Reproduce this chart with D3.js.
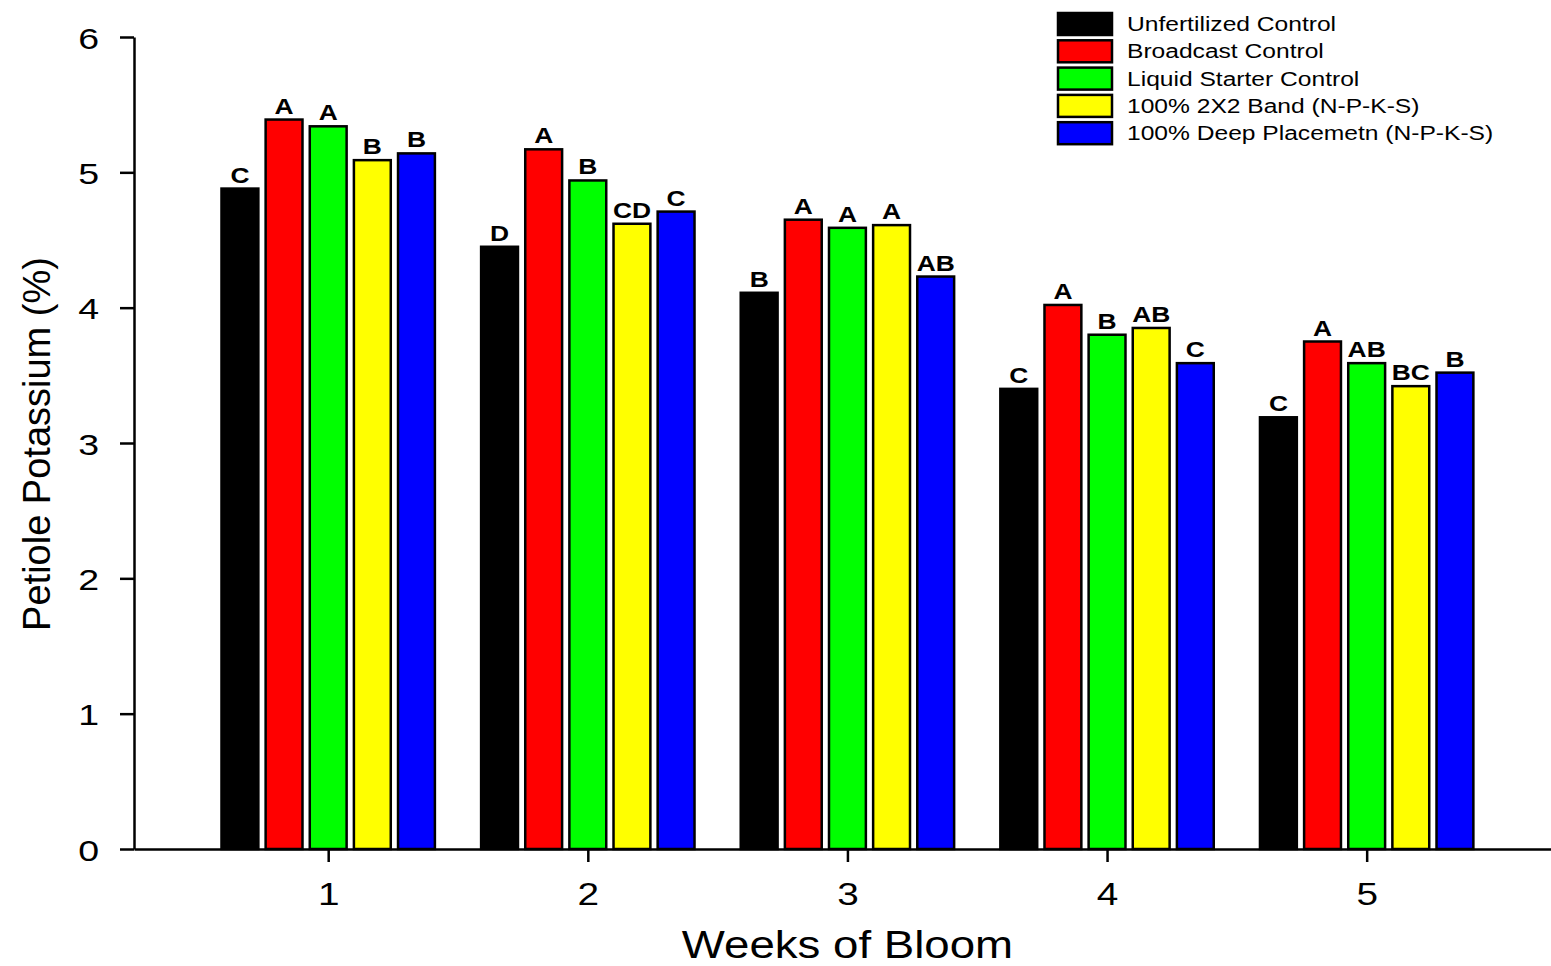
<!DOCTYPE html>
<html>
<head>
<meta charset="utf-8">
<script src="https://cdn.jsdelivr.net/npm/d3@7"></script>
<style>
  html, body { margin: 0; padding: 0; background: #fff; }
  svg text { font-family: Arial, "Liberation Sans", sans-serif; fill: #000; }
</style>
</head>
<body>
<svg id="chart" width="1551" height="966"></svg>
<script>
// Weeks of bloom (x categories)
const weeks = [1, 2, 3, 4, 5];

// Treatments, in drawing order within each week
const treatments = [
  "Unfertilized Control",
  "Broadcast Control",
  "Liquid Starter Control",
  "100% 2X2 Band (N-P-K-S)",
  "100% Deep Placemetn (N-P-K-S)"
];
const colors = ["#000000", "#ff0000", "#00ff00", "#ffff00", "#0000ff"];

// Petiole potassium (%) per treatment, weeks 1..5
const unfertilized = [4.88, 4.45, 4.11, 3.40, 3.19];
const broadcast    = [5.39, 5.17, 4.65, 4.02, 3.75];
const liquidStart  = [5.34, 4.94, 4.59, 3.80, 3.59];
const band2x2      = [5.09, 4.62, 4.61, 3.85, 3.42];
const deepPlace    = [5.14, 4.71, 4.23, 3.59, 3.52];

// Mean separation letters per treatment, weeks 1..5
const lettersUnfert    = ["C", "D", "B", "C", "C"];
const lettersBroadcast = ["A", "A", "A", "A", "A"];
const lettersLiquid    = ["A", "B", "A", "B", "AB"];
const lettersBand      = ["B", "CD", "A", "AB", "BC"];
const lettersDeep      = ["B", "C", "AB", "C", "B"];

const yTicks = [0, 1, 2, 3, 4, 5, 6];

const series = [unfertilized, broadcast, liquidStart, band2x2, deepPlace];
const letters = [lettersUnfert, lettersBroadcast, lettersLiquid, lettersBand, lettersDeep];

const svg = d3.select("#chart");
const plotLeft = 134, plotRight = 1551, plotTop = 37, plotBottom = 849;

const x = d3.scaleLinear().domain([0.252, 5.71]).range([plotLeft, plotRight]);
const y = d3.scaleLinear().domain([0, 6]).range([plotBottom, plotTop]);

const barStep = 0.17;   // offset between adjacent bars, in week units
const barW = 0.142;     // bar width, in week units
const barPx = x(barW) - x(0);

// Bars
const rows = [];
series.forEach((vals, s) => vals.forEach((v, i) => rows.push({
  s, week: weeks[i], v, label: letters[s][i]
})));

const g = svg.append("g");
g.selectAll("rect.bar").data(rows).enter().append("rect")
  .attr("class", "bar")
  .attr("x", d => x(d.week + (d.s - 2) * barStep) - barPx / 2)
  .attr("y", d => y(d.v))
  .attr("width", barPx)
  .attr("height", d => y(0) - y(d.v))
  .attr("fill", d => colors[d.s])
  .attr("stroke", "#000")
  .attr("stroke-width", 2.5);

// Letters above bars
g.selectAll("text.lbl").data(rows).enter().append("text")
  .attr("class", "lbl")
  .attr("transform", d => `translate(${x(d.week + (d.s - 2) * barStep)},${y(d.v) - 6}) scale(1.2,1)`)
  .attr("text-anchor", "middle")
  .attr("font-size", 22)
  .attr("font-weight", "bold")
  .text(d => d.label);

// Y axis
const yAxis = svg.append("g").attr("transform", `translate(${plotLeft},0)`)
  .call(d3.axisLeft(y).tickValues(yTicks).tickSize(14).tickSizeOuter(0).tickFormat(d3.format("d")));
yAxis.select(".domain").attr("stroke-width", 2.5);
yAxis.selectAll(".tick line").attr("stroke-width", 2.5);
yAxis.selectAll(".tick text")
  .attr("x", null).attr("dy", null)
  .attr("font-size", 30)
  .attr("text-anchor", "end")
  .attr("transform", "translate(-35,11) scale(1.25,1)");

// X axis
const xAxis = svg.append("g").attr("transform", `translate(0,${plotBottom})`)
  .call(d3.axisBottom(x).tickValues(weeks).tickSize(13).tickSizeOuter(0).tickFormat(d3.format("d")));
xAxis.select(".domain").attr("stroke-width", 2.5);
xAxis.selectAll(".tick line").attr("stroke-width", 2.5);
xAxis.selectAll(".tick text")
  .attr("y", null).attr("dy", null)
  .attr("font-size", 31)
  .attr("text-anchor", "middle")
  .attr("transform", "translate(0,56) scale(1.25,1)");

// Axis titles
svg.append("text")
  .attr("transform", `translate(${x(3)},${958}) scale(1.17,1)`)
  .attr("text-anchor", "middle")
  .attr("font-size", 39)
  .text("Weeks of Bloom");

svg.append("text")
  .attr("transform", `translate(50,${(258 + 630) / 2}) rotate(-90)`)
  .attr("text-anchor", "middle")
  .attr("font-size", 38)
  .text("Petiole Potassium (%)");

// Legend
const legend = svg.append("g").attr("transform", "translate(1057,12)");
const item = legend.selectAll("g").data(treatments).enter().append("g")
  .attr("transform", (d, i) => `translate(0,${i * 27.3})`);
item.append("rect")
  .attr("x", 1).attr("y", 1).attr("width", 54).attr("height", 22)
  .attr("fill", (d, i) => colors[i])
  .attr("stroke", "#000").attr("stroke-width", 2.5);
item.append("text")
  .attr("transform", "translate(70,19) scale(1.23,1)")
  .attr("font-size", 20)
  .text(d => d);
</script>
</body>
</html>
